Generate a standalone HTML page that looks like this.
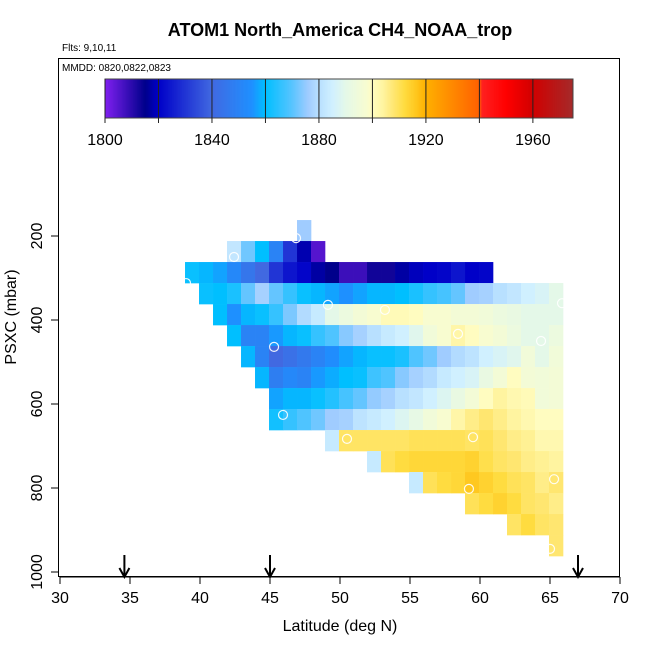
<!DOCTYPE html>
<html><head><meta charset="utf-8"><style>
html,body{margin:0;padding:0;background:#fff;}
svg{display:block;font-family:"Liberation Sans",Arial,sans-serif;}
</style></head><body>
<svg id="chart" width="650" height="650" viewBox="0 0 650 650" xmlns="http://www.w3.org/2000/svg">
<text x="340" y="36" text-anchor="middle" font-size="18" font-weight="bold">ATOM1 North_America CH4_NOAA_trop</text>
<text x="62" y="51" font-size="10">Flts: 9,10,11</text>
<g id="cells"></g>
<g id="pts"></g>
<rect x="58.5" y="58.5" width="561" height="518" fill="none" stroke="#000" stroke-width="1"/>
<text x="62" y="71" font-size="10">MMDD: 0820,0822,0823</text>
<g id="cbar"></g>
<g id="axes"></g>
<g id="arrows"></g>
<text x="340" y="631" text-anchor="middle" font-size="16">Latitude (deg N)</text>
<text transform="translate(16,317) rotate(-90)" text-anchor="middle" font-size="16">PSXC (mbar)</text>
</svg>
<script>
const xTicks = [30,35,40,45,50,55,60,65,70];
const yTicks = [200,400,600,800,1000];
const cbTicks = [1800,1820,1840,1860,1880,1900,1920,1940,1960];
const cbLabels = [1800,1840,1880,1920,1960];
const arrowLats = [34.6,45,67];
const firstLatEdge = 38.93;
const firstPresTop = 162;
const rowStart = [8,3,0,1,2,3,4,5,6,6,10,13,16,20,23,26];
const rowValues = [
[1876],
[1882,1872,1860,1850,1830,1818,1805],
[1861,1859,1857,1852,1845,1840,1830,1824,1821,1817,1815,1808,1808,1813,1813,1817,1819,1820,1821,1824,1820,1821],
[1861,1860,1863,1871,1877,1871,1866,1861,1859,1857,1855,1857,1859,1859,1860,1863,1866,1868,1871,1876,1877,1880,1882,1885,1887,1890],
[1860,1855,1859,1861,1866,1873,1879,1883,1890,1893,1896,1898,1901,1901,1900,1898,1898,1896,1896,1895,1893,1892,1890,1890,1890],
[1860,1850,1850,1856,1859,1861,1866,1869,1874,1877,1880,1883,1885,1889,1895,1898,1903,1900,1898,1896,1893,1890,1890,1893],
[1859,1850,1840,1843,1846,1850,1854,1857,1859,1861,1861,1863,1869,1872,1876,1879,1881,1885,1887,1889,1895,1890,1895],
[1859,1848,1852,1850,1856,1858,1860,1861,1867,1869,1874,1877,1879,1883,1885,1887,1892,1896,1900,1896,1895,1896],
[1857,1859,1859,1861,1864,1868,1871,1875,1877,1880,1882,1885,1888,1892,1896,1900,1904,1902,1901,1895,1896],
[1862,1866,1869,1872,1876,1877,1881,1883,1885,1888,1891,1895,1898,1903,1906,1908,1906,1904,1902,1900,1900],
[1883,1909,1909,1909,1909,1909,1910,1910,1910,1910,1909,1910,1908,1906,1905,1902,1902],
[1883,1910,1912,1913,1913,1913,1913,1914,1911,1909,1908,1906,1905,1904],
[1883,1910,1912,1913,1916,1914,1912,1910,1909,1906,1908],
[1910,1912,1914,1912,1909,1908,1906],
[1909,1912,1909,1908],
[1908]
];
const ptLat = [46.86,42.43,39.0,49.14,53.21,58.43,64.36,65.86,45.29,45.93,50.5,59.5,59.21,65.29,65.0];
const ptPres = [205,250,312,364,376,433,450,360,464,626,683,679,802,779,945];

const NS="http://www.w3.org/2000/svg";
function X(lat){return 60+(lat-30)*14;}
function Y(p){return 236+(p-200)*0.42;}
function CB(v){return 105+(v-1800)*468/175;}
const stops=[[1800,"#8020f0"],[1815,"#00008b"],[1820,"#0000c8"],[1840,"#4169e1"],[1855,"#1e90ff"],[1860,"#00bfff"],[1870,"#58c4ff"],[1876,"#a0ccff"],[1880,"#b8e0ff"],[1885,"#d0f0ff"],[1890,"#e4f8e8"],[1898,"#f8fcd0"],[1900,"#fffcc0"],[1904,"#fff4a0"],[1908,"#ffe670"],[1912,"#ffdc40"],[1916,"#ffc820"],[1920,"#ffb000"],[1940,"#ff6000"],[1941,"#ff2020"],[1950,"#ff0000"],[1960,"#d00000"],[1975,"#a52a2a"]];
function h2r(h){return [1,3,5].map(i=>parseInt(h.substr(i,2),16));}
function col(v){
  if(v<=stops[0][0])return stops[0][1];
  for(let i=1;i<stops.length;i++){if(v<=stops[i][0]){const a=stops[i-1],b=stops[i];const t=(v-a[0])/(b[0]-a[0]);const ca=h2r(a[1]),cb=h2r(b[1]);return "rgb("+ca.map((c,j)=>Math.round(c+(cb[j]-c)*t)).join(",")+")";}}
  return stops[stops.length-1][1];
}
function mk(tag,attrs,parent){const e=document.createElementNS(NS,tag);for(const k in attrs)e.setAttribute(k,attrs[k]);parent.appendChild(e);return e;}

const cells=document.getElementById('cells');
rowValues.forEach((vals,r)=>{
  vals.forEach((v,i)=>{
    const c=rowStart[r]+i;
    const lat=firstLatEdge+c, pTop=firstPresTop+50*r;
    const e=mk('rect',{x:X(lat),y:Y(pTop),width:X(lat+1)-X(lat)+0.3,height:Y(pTop+50)-Y(pTop)+0.3,fill:col(v)},cells);
    
    
  });
});
const pts=document.getElementById('pts');
ptLat.forEach((la,i)=>{
  const e=mk('circle',{cx:X(la),cy:Y(ptPres[i]),r:4.5,fill:"none",stroke:"#fff","stroke-width":1.2,"stroke-opacity":0.9},pts);
  
  
});
const cb=document.getElementById('cbar');
for(let v=1800;v<1975;v+=0.5){
  const e=mk('rect',{x:CB(v),y:79,width:CB(v+0.5)-CB(v)+0.4,height:39,fill:col(v+0.25)},cb);
  
  
}
mk('rect',{x:105,y:79,width:468,height:39,fill:"none",stroke:"#444","stroke-width":1},cb);
cbTicks.forEach(t=>{
  const e=mk('line',{x1:CB(t),x2:CB(t),y1:79,y2:123,stroke:"#222","stroke-width":1},cb);
  
  
});
cbLabels.forEach(t=>{
  const e=mk('text',{x:CB(t),y:145,"text-anchor":"middle","font-size":16},cb);
  e.textContent=t;
  
  
});
const ax=document.getElementById('axes');
mk('line',{x1:X(30),x2:X(70),y1:577,y2:577,stroke:"#000"},ax);
xTicks.forEach(t=>{
  mk('line',{x1:X(t),x2:X(t),y1:577,y2:584,stroke:"#000"},ax);
  const e=mk('text',{x:X(t),y:603,"text-anchor":"middle","font-size":16},ax);
  e.textContent=t;
  
  
});
mk('line',{x1:58.5,x2:58.5,y1:Y(200),y2:Y(1000),stroke:"#000"},ax);
yTicks.forEach(t=>{
  mk('line',{x1:51,x2:58.5,y1:Y(t),y2:Y(t),stroke:"#000"},ax);
  const e=mk('text',{transform:"translate(42,"+Y(t)+") rotate(-90)","text-anchor":"middle","font-size":16},ax);
  e.textContent=t;
  
  
});
const ar=document.getElementById('arrows');
arrowLats.forEach(la=>{
  const x=X(la);
  const g=mk('g',{},ar);
  
  
  mk('line',{x1:x,x2:x,y1:555,y2:576,stroke:"#000","stroke-width":2},g);
  mk('polyline',{points:(x-5)+",568 "+x+",577 "+(x+5)+",568",fill:"none",stroke:"#000","stroke-width":2},g);
});
</script>
</body></html>
